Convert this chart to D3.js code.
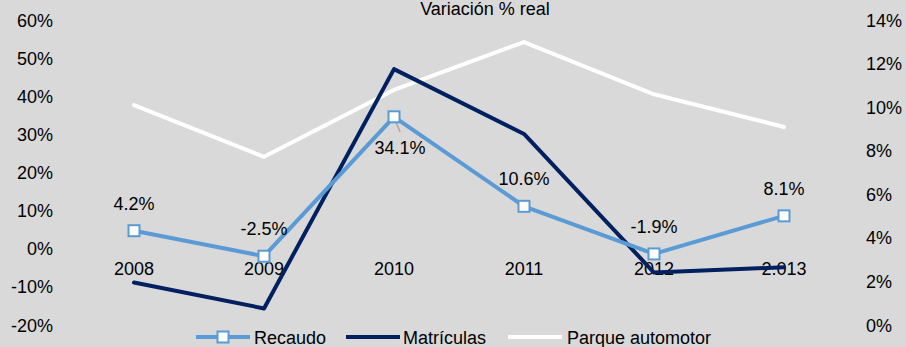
<!DOCTYPE html>
<html>
<head>
<meta charset="utf-8">
<script src="https://cdn.jsdelivr.net/npm/d3@7/dist/d3.min.js"></script>
<style>
  html, body { margin: 0; padding: 0; background: #D9D9D9; }
  svg { display: block; font-family: Arial, "Liberation Sans", sans-serif; }
</style>
</head>
<body>
<svg id="chart" width="906" height="347"></svg>
<script>
// Categories and series
const years = ["2008", "2009", "2010", "2011", "2012", "2.013"];
const recaudo = [0.042, -0.025, 0.341, 0.106, -0.019, 0.081];
const matriculas = [-0.094, -0.162, 0.466, 0.296, -0.068, -0.054];
const parque = [0.100, 0.0763, 0.107, 0.129, 0.105, 0.090];
const recaudoLabels = ["4.2%", "-2.5%", "34.1%", "10.6%", "-1.9%", "8.1%"];
const leftTicks = [-0.2, -0.1, 0, 0.1, 0.2, 0.3, 0.4, 0.5, 0.6];
const rightTicks = [0, 0.02, 0.04, 0.06, 0.08, 0.10, 0.12, 0.14];
const legendItems = ["Recaudo", "Matrículas", "Parque automotor"];

const W = 906, H = 347;
const svg = d3.select("#chart");
svg.append("rect").attr("width", W).attr("height", H).attr("fill", "#D9D9D9");

const colRecaudo = "#5B9BD5", colMatric = "#002060", colParque = "#FFFFFF";

const x = d3.scalePoint().domain(years).range([69, 849]).padding(0.5);
const yL = d3.scaleLinear().domain([-0.2, 0.6]).range([322.9, 18.1]);
const yR = d3.scaleLinear().domain([0, 0.14]).range([322.9, 18.1]);

// Title
svg.append("text").attr("x", 485).attr("y", 15).attr("text-anchor", "middle")
  .attr("font-size", 18).attr("fill", "#000").text("Variación % real");

// Left axis (no line, no ticks)
const axL = svg.append("g").attr("transform", "translate(56,0)")
  .call(d3.axisLeft(yL).tickValues(leftTicks).tickSize(0).tickPadding(3)
    .tickFormat(d => Math.round(d * 100) + "%"));
axL.select(".domain").remove();
axL.selectAll("text").attr("font-size", 18).attr("fill", "#000")
  .attr("font-family", "Arial, 'Liberation Sans', sans-serif").attr("dy", "0.45em");

// Right axis
const axR = svg.append("g").attr("transform", "translate(863,0)")
  .call(d3.axisRight(yR).tickValues(rightTicks).tickSize(0).tickPadding(3)
    .tickFormat(d => Math.round(d * 100) + "%"));
axR.select(".domain").remove();
axR.selectAll("text").attr("font-size", 18).attr("fill", "#000")
  .attr("font-family", "Arial, 'Liberation Sans', sans-serif").attr("dy", "0.45em");

// Category labels sit just below the zero line
svg.append("g").selectAll("text").data(years).join("text")
  .attr("x", d => x(d)).attr("y", yL(0) + 28.5)
  .attr("text-anchor", "middle").attr("font-size", 18).attr("fill", "#000")
  .text(d => d);

const lineOf = (vals, y) => d3.line().x((d, i) => x(years[i])).y(d => y(d))(vals);

// Parque automotor (secondary axis)
svg.append("path").attr("d", lineOf(parque, yR)).attr("fill", "none")
  .attr("stroke", colParque).attr("stroke-width", 4).attr("stroke-linejoin", "round")
  .attr("stroke-linecap", "round");

// Matrículas
svg.append("path").attr("d", lineOf(matriculas, yL)).attr("fill", "none")
  .attr("stroke", colMatric).attr("stroke-width", 4).attr("stroke-linejoin", "round")
  .attr("stroke-linecap", "round");

// Recaudo
svg.append("path").attr("d", lineOf(recaudo, yL)).attr("fill", "none")
  .attr("stroke", colRecaudo).attr("stroke-width", 4).attr("stroke-linejoin", "round")
  .attr("stroke-linecap", "round");

// Leader line for the 2010 label
svg.append("line")
  .attr("x1", x(years[2]) + 1).attr("y1", yL(recaudo[2]) + 3)
  .attr("x2", x(years[2]) + 6).attr("y2", yL(recaudo[2]) + 15)
  .attr("stroke", "#A6A6A6").attr("stroke-width", 1.5);

svg.append("g").selectAll("rect").data(recaudo).join("rect")
  .attr("x", (d, i) => x(years[i]) - 5.5).attr("y", d => yL(d) - 5.5)
  .attr("width", 11).attr("height", 11)
  .attr("fill", "#FFFFFF").attr("stroke", colRecaudo).attr("stroke-width", 2);

// Data labels for Recaudo
svg.append("g").selectAll("text").data(recaudo).join("text")
  .attr("x", (d, i) => x(years[i]) + (i === 2 ? 6 : 0))
  .attr("y", (d, i) => i === 2 ? yL(d) + 37.5 : yL(d) - 21)
  .attr("text-anchor", "middle").attr("font-size", 18).attr("fill", "#000")
  .text((d, i) => recaudoLabels[i]);

// Legend
const lg = svg.append("g");
const ly = 337;
lg.append("line").attr("x1", 196).attr("x2", 250).attr("y1", ly).attr("y2", ly)
  .attr("stroke", colRecaudo).attr("stroke-width", 4);
lg.append("rect").attr("x", 217.5).attr("y", ly - 5.5).attr("width", 11).attr("height", 11)
  .attr("fill", "#FFFFFF").attr("stroke", colRecaudo).attr("stroke-width", 2);
lg.append("text").attr("x", 254).attr("y", ly + 6.5).attr("font-size", 18).text(legendItems[0]);
lg.append("line").attr("x1", 346).attr("x2", 400).attr("y1", ly).attr("y2", ly)
  .attr("stroke", colMatric).attr("stroke-width", 4);
lg.append("text").attr("x", 403).attr("y", ly + 6.5).attr("font-size", 18).text(legendItems[1]);
lg.append("line").attr("x1", 508).attr("x2", 562).attr("y1", ly).attr("y2", ly)
  .attr("stroke", colParque).attr("stroke-width", 4);
lg.append("text").attr("x", 567).attr("y", ly + 6.5).attr("font-size", 18).text(legendItems[2]);
</script>
</body>
</html>
